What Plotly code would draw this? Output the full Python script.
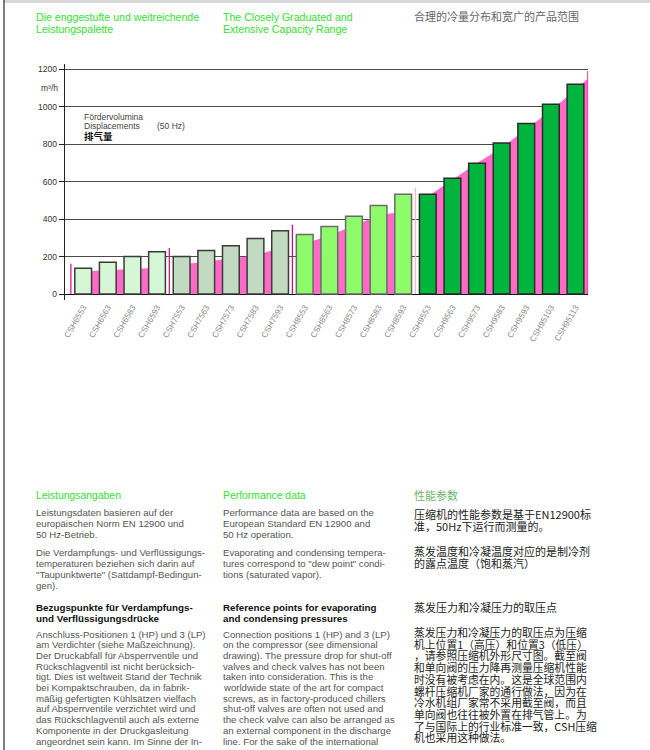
import plotly.graph_objects as go

W, H = 650, 750

# ---------------- data ----------------
models = ["CSH6553", "CSH6563", "CSH6583", "CSH6593",
          "CSH7553", "CSH7563", "CSH7573", "CSH7583", "CSH7593",
          "CSH8553", "CSH8563", "CSH8573", "CSH8583", "CSH8593",
          "CSH9553", "CSH9563", "CSH9573", "CSH9583", "CSH9593", "CSH95103", "CSH95113"]
displacement_50hz = [138, 170, 200, 226,
                     200, 232, 258, 297, 338,
                     318, 360, 415, 472, 533,
                     533, 618, 698, 806, 910, 1013, 1120]
group_sizes = [4, 5, 5, 7]
band_values = [120, 126, 131, 140,
               158, 174, 190, 206, 246,
               268, 312, 364, 420, 440,
               520, 610, 700, 780, 880, 980, 1090]
band_tail = 1150
boundary_peaks = [162, 246, 370, 568, 1190]
y_ticks = [0, 200, 400, 600, 800, 1000, 1200]

group_fill = ["#d6f7d6", "#c2d9c2", "#8efc6a", "#00b53e"]
group_edge = ["#3a3a3a", "#3a3a3a", "#6a6a6a", "#2a2a2a"]
boundary_colors = ["#e0187c", "#e0187c", "#d0107a", "#ffb3cc", "#ff3da0"]
PINK = "#ff6ac6"

title_de = ["Die enggestufte und weitreichende", "Leistungspalette"]
title_en = ["The Closely Graduated and", "Extensive Capacity Range"]
title_zh = ["合理的冷量分布和宽广的产品范围"]

sec1_head = ["Leistungsangaben", "Performance data", "性能参数"]
de_p1 = ["Leistungsdaten basieren auf der", "europäischen Norm EN 12900 und", "50 Hz-Betrieb."]
de_p2 = ["Die Verdampfungs- und Verflüssigungs-", "temperaturen beziehen sich darin auf",
         "\"Taupunktwerte\" (Sattdampf-Bedingun-", "gen)."]
de_h2 = ["Bezugspunkte für Verdampfungs-", "und Verflüssigungsdrücke"]
de_p3 = ["Anschluss-Positionen 1 (HP) und 3 (LP)", "am Verdichter (siehe Maßzeichnung).",
         "Der Druckabfall für Absperrventile und", "Rückschlagventil ist nicht berücksich-",
         "tigt. Dies ist weltweit Stand der Technik", "bei Kompaktschrauben, da in fabrik-",
         "mäßig gefertigten Kühlsätzen vielfach", "auf Absperrventile verzichtet wird und",
         "das Rückschlagventil auch als externe", "Komponente in der Druckgasleitung",
         "angeordnet sein kann. Im Sinne der In-"]
en_p1 = ["Performance data are based on the", "European Standard EN 12900 and", "50 Hz operation."]
en_p2 = ["Evaporating and condensing tempera-", "tures correspond to \"dew point\" condi-",
         "tions (saturated vapor)."]
en_h2 = ["Reference points for evaporating", "and condensing pressures"]
en_p3 = ["Connection positions 1 (HP) and 3 (LP)", "on the compressor (see dimensional",
         "drawing). The pressure drop for shut-off", "valves and check valves has not been",
         "taken into consideration. This is the", "worldwide state of the art for compact",
         "screws, as in factory-produced chillers", "shut-off valves are often not used and",
         "the check valve can also be arranged as", "an external component in the discharge",
         "line. For the sake of the international"]
zh_p1 = ["压缩机的性能参数是基于EN12900标", "准，50Hz下运行而测量的。"]
zh_p2 = ["蒸发温度和冷凝温度对应的是制冷剂", "的露点温度（饱和蒸汽）"]
zh_h2 = ["蒸发压力和冷凝压力的取压点"]
zh_p3 = ["蒸发压力和冷凝压力的取压点为压缩", "机上位置1（高压）和位置3（低压）",
         "，请参照压缩机外形尺寸图。截至阀", "和单向阀的压力降再测量压缩机性能",
         "时没有被考虑在内。这是全球范围内", "螺杆压缩机厂家的通行做法，因为在",
         "冷水机组厂家常不采用截至阀，而且", "单向阀也往往被外置在排气管上。为",
         "了与国际上的行业标准一致，CSH压缩", "机也采用这种做法。"]


def px(x):
    return x / W


def py(y):
    return 1 - y / H


LAT = "Liberation Sans, Arial, sans-serif"
CJK = "Noto Sans CJK SC, sans-serif"

fig = go.Figure()

# ---- pink band behind bars (base axes) ----
starts = []
s = 0
for g in group_sizes:
    starts.append(s)
    s += g
idx = list(range(len(models)))
for gi, (st, g) in enumerate(zip(starts, group_sizes)):
    xs = idx[st:st + g]
    ys = band_values[st:st + g]
    if gi == len(group_sizes) - 1:
        xs = xs + [st + g - 0.5]
        ys = ys + [band_tail]
    fig.add_trace(go.Scatter(x=xs, y=ys, mode="lines", fill="tozeroy",
                             line=dict(width=0, color=PINK), fillcolor=PINK,
                             hoverinfo="skip", showlegend=False, xaxis="x", yaxis="y"))

boundaries = [starts[0] - 0.5] + [st + g - 0.5 for st, g in zip(starts, group_sizes)]
for b, pk, c in zip(boundaries, boundary_peaks, boundary_colors):
    fig.add_trace(go.Scatter(x=[b, b], y=[0, pk], mode="lines",
                             line=dict(width=1.3, color=c),
                             hoverinfo="skip", showlegend=False, xaxis="x", yaxis="y"))

# ---- bars (overlay axes so its grid is above pink, below bars) ----
fills, edges = [], []
for gi, g in enumerate(group_sizes):
    fills += [group_fill[gi]] * g
    edges += [group_edge[gi]] * g
fig.add_trace(go.Bar(x=idx, y=displacement_50hz, width=0.68,
                     marker=dict(color=fills, line=dict(color=edges, width=1.5)),
                     showlegend=False, xaxis="x", yaxis="y2"))

y_range = [-32, 1228]
dom_x = [px(62), px(588)]
dom_y = [py(300), py(64)]

fig.update_layout(
    width=W, height=H, autosize=False,
    margin=dict(l=0, r=0, t=0, b=0),
    paper_bgcolor="white", plot_bgcolor="white",
    showlegend=False,
    xaxis=dict(domain=dom_x, range=[-0.75, 20.52], tickvals=idx, ticktext=models,
               tickangle=-60, showgrid=False, zeroline=False, showline=False,
               ticks="", tickfont=dict(family=LAT, size=8.3, color="#8a8a8a")),
    yaxis=dict(domain=dom_y, range=y_range, visible=False, showgrid=False, zeroline=False),
    yaxis2=dict(domain=dom_y, range=y_range, overlaying="y", anchor="x", side="left",
                tickvals=y_ticks, showgrid=True, gridcolor="#4a4a4a", gridwidth=1,
                zeroline=True, zerolinecolor="#111", zerolinewidth=1.2,
                showline=True, linecolor="#222", linewidth=1.2,
                ticks="outside", ticklen=5, tickcolor="#222",
                tickfont=dict(family=LAT, size=8.5, color="#333")),
    bargap=0.3,
)

ann = []
font_size = [10]


def add_lines(lines, x, y0, step, font, color, weight="normal"):
    for i, t in enumerate(lines):
        ann.append(dict(text=t, x=px(x - 2), y=py(y0 + i * step), xref="paper", yref="paper",
                        xanchor="left", yanchor="middle", showarrow=False,
                        font=dict(family=font, size=font_size[0], color=color, weight=weight)))


def add_block(lines, x, y0, step, glyph, font, color):
    # one multi-line text: line pitch from the base size, glyph size from the span
    txt = "<br>".join("<span style='font-size:%spx'>%s</span>" % (glyph, t) for t in lines)
    yc = y0 + (len(lines) - 1) * step / 2
    ann.append(dict(text=txt, x=px(x - 2), y=py(yc), xref="paper", yref="paper",
                    xanchor="left", yanchor="middle", align="left", showarrow=False,
                    font=dict(family=font, size=step / 1.3, color=color)))


# headers
font_size[0] = 10.6
add_lines(title_de, 33, 17, 12, LAT, "#33e033")
add_lines(title_en, 221, 17, 12, LAT, "#33e033")
font_size[0] = 11
add_lines(title_zh, 413, 16, 12, CJK, "#666666")

# chart annotations
font_size[0] = 8.5
add_lines(["m³/h"], 38, 88, 10, LAT, "#333333")
add_lines(["Fördervolumina", "Displacements"], 81, 117, 9, LAT, "#444444")
add_lines(["(50 Hz)"], 155, 126, 9, LAT, "#444444")
font_size[0] = 9.5
add_lines(["排气量"], 81, 136, 9, CJK, "#111111", "bold")

# section 1 heads
font_size[0] = 10.4
add_lines([sec1_head[0]], 33, 495, 11, LAT, "#33dd33")
add_lines([sec1_head[1]], 221, 495, 11, LAT, "#33dd33")
font_size[0] = 11
add_lines([sec1_head[2]], 413, 495, 11, CJK, "#6cb46c")

# latin body
font_size[0] = 9.6
add_lines(de_p1, 33, 512, 11, LAT, "#555555")
add_lines(de_p2, 33, 552, 11, LAT, "#555555")
add_lines(de_p3, 33, 634, 10.7, LAT, "#555555")
add_lines(en_p1, 221, 512, 11, LAT, "#555555")
add_lines(en_p2, 221, 552, 11, LAT, "#555555")
add_lines(en_p3, 221, 634, 10.7, LAT, "#555555")
font_size[0] = 9.8
add_lines(de_h2, 33, 607, 11, LAT, "#111111", "bold")
add_lines(en_h2, 221, 607, 11, LAT, "#111111", "bold")

# chinese body
add_block(zh_p1, 413, 514, 12, 11, CJK, "#222222")
add_block(zh_p2, 413, 551, 11.5, 11, CJK, "#222222")
font_size[0] = 11
add_lines(zh_h2, 413, 607, 12, CJK, "#222222")
add_block(zh_p3, 413, 632, 11.7, 10.8, CJK, "#222222")

fig.update_layout(annotations=ann)

# page frame
fig.update_layout(shapes=[
    dict(type="line", xref="paper", yref="paper", x0=0, x1=1, y0=py(1.5), y1=py(1.5),
         line=dict(color="#d8d8d8", width=3)),
    dict(type="line", xref="paper", yref="paper", x0=px(1), x1=px(1), y0=0, y1=1,
         line=dict(color="#555555", width=1.5)),
])

fig.write_html("out.html", config={"displayModeBar": False},
               post_script="document.body.style.margin='0';document.body.style.overflow='hidden';")
